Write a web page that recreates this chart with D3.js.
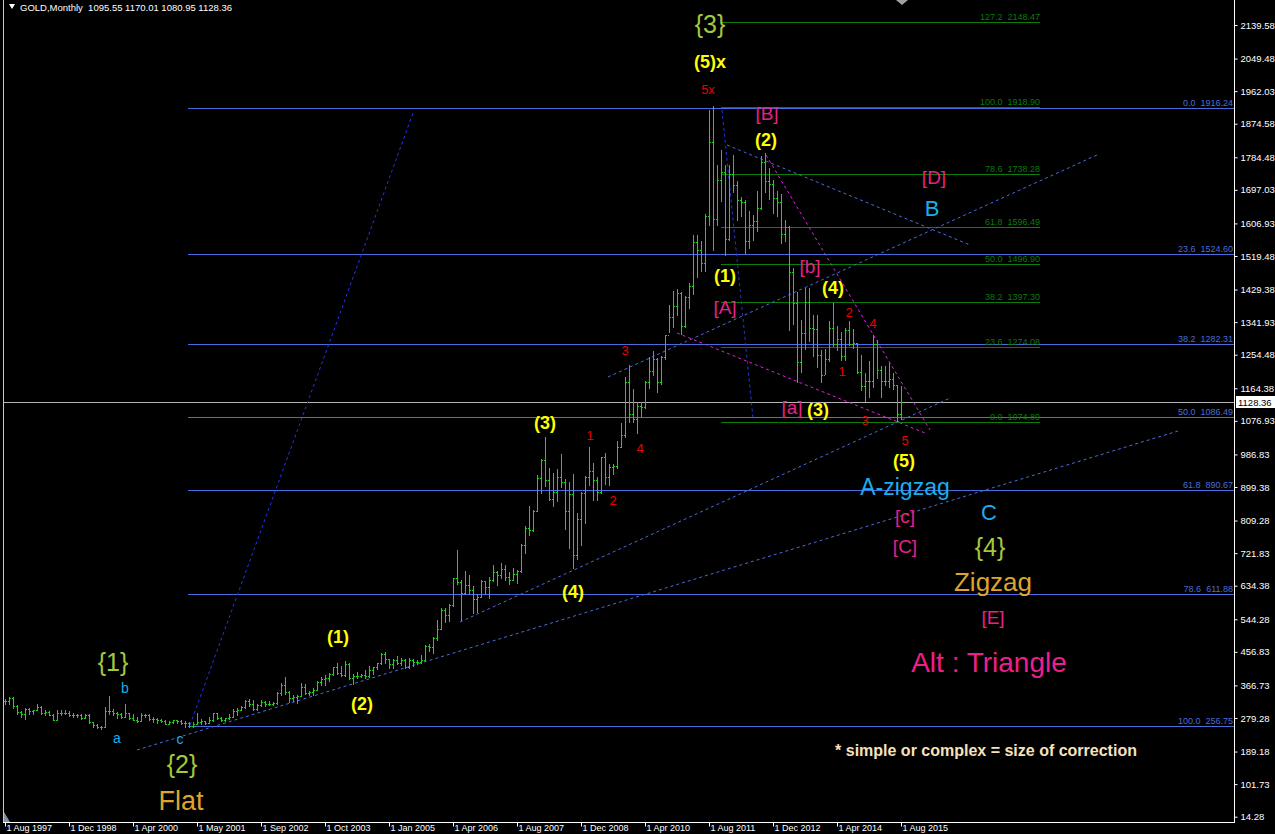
<!DOCTYPE html>
<html><head><meta charset="utf-8">
<script src="https://cdn.jsdelivr.net/npm/d3@7"></script>
<style>html,body{margin:0;padding:0;background:#000;overflow:hidden}
text{font-family:"Liberation Sans",Arial,sans-serif}</style>
</head><body>
<svg id="c" width="1275" height="834"></svg>
<script>
// ---------- DATA : monthly bars [open, high, low, close] ----------
const y1997=[[326,331,316,325],[325,336,317,332],[332,335,306,311],[311,314,291,296],[296,299,283,290]];
const y1998=[[290,306,277,303],[303,305,289,297],[297,302,290,301],[301,316,301,309],[309,312,290,293],[293,300,287,296],[296,298,286,288],[288,290,273,273],[273,300,273,294],[294,300,286,292],[292,300,290,294],[294,297,285,288]];
const y1999=[[288,293,283,287],[287,290,283,287],[287,291,277,279],[279,290,278,286],[286,290,267,268],[268,268,256,261],[261,262,252,255],[255,259,251,254],[254,308,254,299],[299,339,290,299],[299,303,288,292],[292,295,278,289]];
const y2000=[[289,293,280,283],[283,316,282,293],[293,293,276,278],[278,289,274,275],[275,281,268,272],[272,292,272,288],[288,290,283,286],[286,291,274,276],[276,281,269,277],[277,278,267,273],[273,276,268,271],[271,275,263,264],[264,272,262,269],[269,275,267,273],[273,274,266,272]];
const y2001=[[272,273,262,265],[265,271,255,266],[266,268,255,257],[257,268,255,263],[263,292,263,268],[268,276,263,271],[271,271,264,265],[265,281,265,274],[274,294,271,293],[293,293,276,279],[279,283,270,275],[275,280,271,279]];
const y2002=[[279,290,277,282],[282,304,281,297],[297,305,287,301],[301,312,300,309],[309,328,307,326],[326,330,311,318],[318,328,302,304],[304,318,301,313],[313,327,311,323],[323,325,311,318],[318,326,315,318],[318,322,314,320],[320,349,316,347]];
const y2003=[[347,372,342,367],[367,389,344,348],[348,353,322,334],[334,340,325,336],[336,341,320,338],[338,372,337,363],[363,370,343,346],[346,352,341,349],[349,361,340,354],[354,379,354,375],[375,390,369,384],[384,395,368,386],[386,399,379,397],[397,417,395,416]];
const y2004=[[416,427,398,400],[400,420,393,396],[396,431,391,425],[425,428,384,387],[387,397,371,393],[393,404,386,392],[392,398,388,394],[394,409,386,391],[391,418,388,409],[409,417,398,415],[415,428,411,426],[426,455,423,452],[452,457,427,438]];
const y2005=[[438,438,414,423],[423,437,413,435],[435,446,424,428],[428,439,421,435],[435,437,414,417],[417,441,414,436],[436,438,418,429],[429,435,424,430],[430,448,428,434],[434,474,432,473],[473,477,460,471],[471,497,455,495],[495,541,488,517]];
const y2006=[[517,575,517,569],[569,575,538,556],[556,585,539,583],[583,655,581,654],[654,730,640,645],[645,650,543,614],[614,675,612,635],[635,663,612,624],[624,634,560,599],[599,611,563,604],[604,650,603,647],[647,648,611,632]];
const y2007=[[632,658,602,651],[651,690,647,670],[670,673,636,663],[663,694,655,679],[679,691,651,659],[659,671,640,650],[650,683,649,665],[665,676,642,673],[673,746,670,743],[743,794,723,789],[789,848,770,783],[783,837,780,834]];
const y2008=[[834,932,834,924],[924,975,883,972],[972,1033,903,917],[917,951,864,868],[868,936,848,885],[885,947,863,927],[927,989,900,913],[913,920,786,834],[834,914,736,880],[880,935,681,718],[718,830,705,814],[814,887,743,884]];
const y2009=[[884,930,802,927],[927,1007,904,942],[942,964,865,917],[917,925,865,887],[887,980,883,979],[979,990,908,927],[927,960,905,954],[954,962,934,955],[955,1024,951,1008],[1008,1071,1006,1040],[1040,1195,1034,1181],[1181,1227,1075,1096]];
const y2010=[[1096,1162,1075,1081],[1081,1128,1044,1118],[1118,1128,1089,1113],[1113,1183,1111,1180],[1180,1249,1165,1212],[1212,1265,1201,1244],[1244,1245,1155,1181],[1181,1250,1176,1247],[1247,1308,1243,1307],[1307,1388,1315,1357],[1357,1425,1330,1386],[1386,1431,1360,1421]];
const y2011=[[1421,1424,1309,1332],[1332,1411,1328,1410],[1410,1448,1381,1439],[1439,1576,1418,1556],[1556,1577,1462,1536],[1536,1560,1478,1500],[1500,1632,1478,1628],[1628,1912,1602,1826],[1826,1921,1535,1620],[1620,1765,1604,1723],[1723,1804,1667,1746],[1746,1764,1523,1566]];
const y2012=[[1566,1764,1563,1740],[1740,1791,1690,1710],[1710,1720,1616,1669],[1669,1677,1627,1664],[1664,1671,1527,1560],[1560,1640,1540,1604],[1604,1630,1563,1614],[1614,1693,1587,1648],[1648,1788,1645,1773],[1773,1796,1692,1720],[1720,1755,1673,1714],[1714,1723,1635,1676]];
const y2013=[[1676,1694,1626,1664],[1664,1685,1555,1578],[1578,1617,1561,1596],[1596,1600,1321,1476],[1476,1488,1338,1392],[1392,1424,1180,1234],[1234,1348,1208,1314],[1314,1433,1271,1396],[1396,1434,1292,1327],[1327,1361,1251,1323],[1323,1362,1221,1253],[1253,1267,1182,1201]];
const y2014=[[1201,1270,1202,1244],[1244,1345,1238,1326],[1326,1392,1277,1284],[1284,1331,1268,1296],[1296,1315,1240,1250],[1250,1326,1240,1322],[1322,1345,1280,1282],[1282,1324,1272,1286],[1286,1287,1206,1209],[1209,1255,1160,1171],[1171,1205,1131,1183],[1183,1238,1142,1184]];
const y2015=[[1184,1307,1167,1283],[1283,1294,1191,1213],[1213,1224,1142,1183],[1183,1224,1172,1184],[1184,1232,1169,1190],[1190,1205,1162,1172],[1172,1172,1077,1095],[1095.55,1170.01,1080.95,1128.36]];

const priceTicks=[2139.58,2049.48,1962.03,1874.58,1784.48,1697.03,1606.93,1519.48,1429.38,1341.93,1254.48,1164.38,1076.93,986.83,899.38,809.28,721.83,634.38,544.28,456.83,366.73,279.28,189.18,101.73,14.28];
const dateTickIdx=[0,16,32,48,64,80,96,112,128,144,160,176,192,208,224];
const dateTickLabels=["1 Aug 1997","1 Dec 1998","1 Apr 2000","1 May 2001","1 Sep 2002","1 Oct 2003","1 Jan 2005","1 Apr 2006","1 Aug 2007","1 Dec 2008","1 Apr 2010","1 Aug 2011","1 Dec 2012","1 Apr 2014","1 Aug 2015"];

const blueFibLevels=[0.0,23.6,38.2,50.0,61.8,78.6,100.0];
const blueFibPrices=[1916.24,1524.60,1282.31,1086.49,890.67,611.88,256.75];
const greenFibLevels=[127.2,100.0,78.6,61.8,50.0,38.2,23.6,0.0];
const greenFibPrices=[2148.47,1918.90,1738.28,1596.49,1496.90,1397.30,1274.08,1074.89];

const lastPrice=1128.36;
const header="GOLD,Monthly  1095.55 1170.01 1080.95 1128.36";

// trend lines: [idx1, price1, idx2, price2, kind]
const trendLines=[
 [46.25,260.4,102,1903.2,"dark"],
 [33,193.3,293.25,1049.7,"light"],
 [113.75,536.9,236.25,1138.2,"light"],
 [150.75,1194.6,273,1790.6,"light"],
 [180.5,1817.4,241.25,1549.0,"light"],
 [179.25,1911.4,187,1084.6,"dark"],
 [190.25,1790.6,231.25,1052.4,"mag"],
 [168,1312.8,230,1044.3,"mag"]
];

// annotations: [text, idx, price, kind]
const notes=[
 ["{3}",176.25,2142.3,"brace"],["(5)x",176.25,2040.3,"paren"],["5x",175.75,1965.1,"red"],
 ["[B]",190.5,1900.7,"pink"],["(2)",190.25,1830.9,"paren"],["[D]",232.25,1728.9,"pink"],
 ["B",231.75,1648.3,"cyan"],["(1)",180,1465.8,"paren"],["[b]",201.25,1492.6,"pink"],
 ["(4)",207,1433.6,"paren"],["[A]",180,1379.9,"pink"],["2",211,1369.1,"red"],
 ["4",217,1339.6,"red"],["3",155,1267.1,"red"],["1",209.25,1208.1,"red"],
 ["3",215,1079.2,"red"],["5",225,1025.5,"red"],["[a]",196.75,1114.1,"pink"],
 ["(3)",203.25,1106.0,"paren"],["(3)",135,1071.1,"paren"],["1",146.25,1038.9,"red"],
 ["4",158.75,1001.4,"red"],["2",152,861.8,"red"],["(4)",142,617.5,"paren"],
 ["(5)",224.75,969.1,"paren"],["A-zigzag",225,899.4,"azig"],["[c]",225,821.5,"pink"],
 ["[C]",225,740.9,"pink"],["C",246,832.2,"cyan"],["{4}",246.25,738.3,"brace"],
 ["Zigzag",247,644.3,"gold"],["[E]",247,547.7,"pink"],["Alt : Triangle",246,429.5,"alt"],
 ["* simple or complex = size of correction",245.25,193.3,"note"],
 ["{1}",27,429.5,"brace"],["b",30,359.7,"cyanS"],["a",28,225.5,"cyanS"],["c",43.75,222.8,"cyanS"],
 ["(1)",83.25,496.7,"paren"],["(2)",89.25,316.8,"paren"],["{2}",44.25,155.8,"brace"],["Flat",44,56.4,"gold2"]
];

// ---------- STYLES ----------
const noteStyle={
 brace:{s:25,w:400,c:"#a3c83c"}, paren:{s:18,w:700,c:"#ffff00"}, red:{s:13,w:400,c:"#e80000"},
 pink:{s:19,w:400,c:"#e8208a"}, cyan:{s:22,w:400,c:"#19aeef"}, cyanS:{s:14,w:400,c:"#19aeef"},
 azig:{s:23,w:400,c:"#19aeef"}, gold:{s:26,w:400,c:"#dfa52b"}, gold2:{s:27,w:400,c:"#dfa52b"},
 alt:{s:28,w:400,c:"#f01e8c"}, note:{s:16,w:700,c:"#f8e2bc"}
};
const lineStyle={dark:{c:"#2233ee",d:"3,3"},light:{c:"#4a6cdc",d:"3,3"},mag:{c:"#e020e0",d:"3,3"}};
const barColor="#1ed21e", blueFib="#4a6cdc", greenFibLine="#0a7d0a", greenFibText="#0a7a0a";

// ---------- DRAW ----------
const bars=[].concat(y1997,y1998,y1999,y2000,y2001,y2002,y2003,y2004,y2005,y2006,y2007,y2008,y2009,y2010,y2011,y2012,y2013,y2014,y2015);
const svg=d3.select("#c");
svg.append("rect").attr("width",1275).attr("height",834).attr("fill","#000");
const x=d3.scaleLinear().domain([0,224]).range([5,901]);
const y=d3.scaleLinear().domain([14.28,2139.58]).range([816.7,25]);
const R=1234;
const plot=svg.append("g");
plot.append("clipPath").attr("id","clip").append("rect").attr("x",4).attr("y",0).attr("width",R-4).attr("height",822);
const g=plot.append("g").attr("clip-path","url(#clip)");

// blue fibo
blueFibPrices.forEach((p,k)=>{
  const yy=Math.round(y(p))+0.5;
  g.append("line").attr("x1",x(45.75)).attr("x2",R).attr("y1",yy).attr("y2",yy).attr("stroke",blueFib).attr("stroke-width",1);
  g.append("text").attr("x",1233).attr("y",yy-2.5).attr("text-anchor","end").attr("font-size",9).attr("fill",blueFib)
   .attr("xml:space","preserve").text(blueFibLevels[k].toFixed(1)+"  "+p.toFixed(2));
});
// green fibo
greenFibPrices.forEach((p,k)=>{
  const yy=Math.round(y(p))+0.5;
  g.append("line").attr("x1",x(179)).attr("x2",x(258.75)).attr("y1",yy).attr("y2",yy).attr("stroke",greenFibLine).attr("stroke-width",1);
  g.append("text").attr("x",x(258.75)).attr("y",yy-2.5).attr("text-anchor","end").attr("font-size",9).attr("fill",greenFibText)
   .attr("xml:space","preserve").text(greenFibLevels[k].toFixed(1)+"  "+p.toFixed(2));
});
// current price line
const yl=Math.round(y(lastPrice))+0.5;
g.append("line").attr("x1",4).attr("x2",R).attr("y1",yl).attr("y2",yl).attr("stroke","#b4b4b4");

// trend lines
trendLines.forEach(t=>{
  const st=lineStyle[t[4]];
  g.append("line").attr("x1",x(t[0])).attr("y1",y(t[1])).attr("x2",x(t[2])).attr("y2",y(t[3]))
   .attr("stroke",st.c).attr("stroke-width",1).attr("stroke-dasharray",st.d);
});

// bars
const bg=g.append("g").attr("fill",barColor).attr("shape-rendering","crispEdges");
bars.forEach((b,i)=>{
  const xi=Math.round(x(i));
  const yh=Math.round(y(b[1])), yl2=Math.round(y(b[2]));
  bg.append("rect").attr("x",xi).attr("y",yh).attr("width",1).attr("height",Math.max(1,yl2-yh+1));
  bg.append("rect").attr("x",xi-1).attr("y",Math.round(y(b[0]))).attr("width",1).attr("height",1);
  bg.append("rect").attr("x",xi+1).attr("y",Math.round(y(b[3]))).attr("width",1).attr("height",1);
});

// annotations
notes.forEach(n=>{
  const st=noteStyle[n[3]];
  g.append("text").attr("x",x(n[1])).attr("y",y(n[2])).attr("text-anchor","middle").attr("dominant-baseline","central")
   .attr("font-size",st.s).attr("font-weight",st.w).attr("fill",st.c).text(n[0]);
});

// frame
svg.append("line").attr("x1",3.5).attr("x2",3.5).attr("y1",0).attr("y2",822).attr("stroke","#c8c8c8");
svg.append("line").attr("x1",R+0.5).attr("x2",R+0.5).attr("y1",0).attr("y2",823).attr("stroke","#fff");
svg.append("line").attr("x1",3).attr("x2",R+1).attr("y1",822.5).attr("y2",822.5).attr("stroke","#fff");
svg.append("polygon").attr("points","4,812 4,822 10,822").attr("fill","#8090a0");
svg.append("polygon").attr("points","896,0 908,0 902,5").attr("fill","#a0a0a0");

// right axis
const ay=svg.append("g").attr("transform",`translate(${R+0.5},0)`)
  .call(d3.axisRight(y).tickValues(priceTicks).tickSize(3).tickPadding(3).tickFormat(d=>d.toFixed(2)));
ay.select(".domain").remove();
ay.selectAll("line").attr("stroke","#fff");
ay.selectAll("text").attr("fill","#fff").attr("font-size",9.5).attr("font-family","Liberation Sans, Arial, sans-serif");

// bottom axis
const ax=svg.append("g").attr("transform","translate(0,822.5)")
  .call(d3.axisBottom(x).tickValues(dateTickIdx).tickSize(4).tickFormat((d,k)=>dateTickLabels[k]));
ax.select(".domain").remove();
ax.selectAll("line").attr("stroke","#fff");
ax.selectAll("text").attr("fill","#fff").attr("font-size",9).attr("text-anchor","start").attr("dx",1).attr("y",8.5).attr("dy",0)
  .attr("font-family","Liberation Sans, Arial, sans-serif");

// last price box
svg.append("rect").attr("x",R+2).attr("y",yl-6.5).attr("width",40).attr("height",12).attr("fill","#fff");
svg.append("text").attr("x",R+4).attr("y",yl).attr("dominant-baseline","central").attr("font-size",9.5).attr("fill","#000").text(lastPrice.toFixed(2));

// header
svg.append("polygon").attr("points","9,4 15,4 12,9").attr("fill","#fff");
svg.append("text").attr("x",20).attr("y",7).attr("dominant-baseline","central").attr("font-size",9.5).attr("fill","#fff")
  .attr("xml:space","preserve").text(header);
</script></body></html>
